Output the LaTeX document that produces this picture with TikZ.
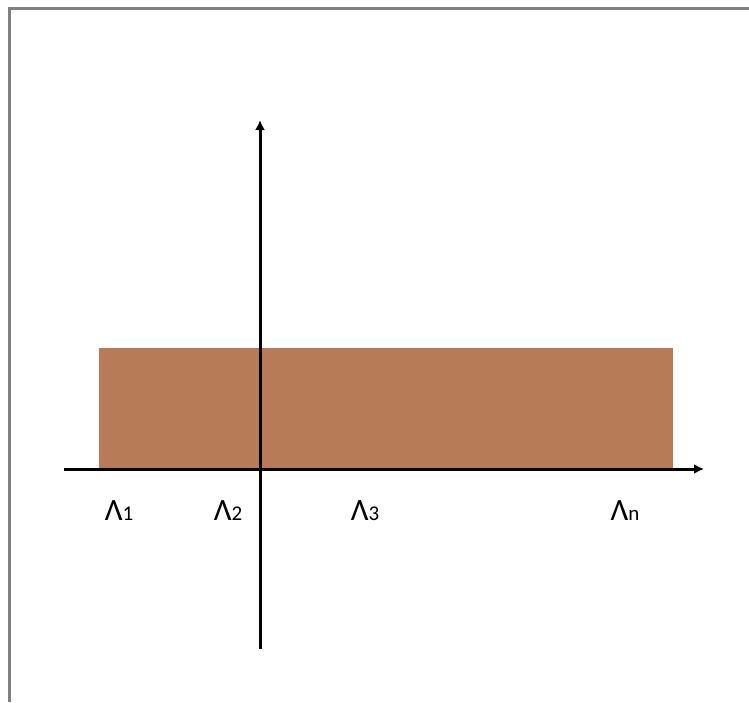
\documentclass[tikz,border=0pt]{standalone}
\usepackage{fontspec}
\setmainfont{Carlito}
\usetikzlibrary{arrows.meta}
\definecolor{barbrown}{RGB}{184,123,88}
\definecolor{framegray}{RGB}{128,128,128}
\tikzset{lab/.style={inner sep=0pt, anchor=base, font=\fontsize{31}{31}\selectfont}}
\newcommand{\lamlab}[1]{Λ{\fontsize{21}{21}\selectfont #1}}

\begin{document}
\begin{tikzpicture}[x=1pt, y=-1pt]
	\useasboundingbox (0,0) rectangle (749,702);
	\draw [framegray, line width=3pt] (9,702) -- (9,8) -- (749,8);
	\fill [barbrown] (99,348) rectangle (673,468);
	\coordinate (xstart) at (64,469);
	\coordinate (xend) at (704,469);
	\coordinate (ystart) at (260,649);
	\coordinate (yend) at (260,120);
	\draw [line width=3pt, -{Latex[length=10pt,width=10pt]}] (xstart) -- (xend);
	\draw [line width=3pt, -{Latex[length=10pt,width=10pt]}] (ystart) -- (yend);
	\node [lab] (l1) at (119,520) {\lamlab{1}};
	\node [lab] (l2) at (228,520) {\lamlab{2}};
	\node [lab] (l3) at (365,520) {\lamlab{3}};
	\node [lab] (ln) at (625,520) {\lamlab{n}};
\end{tikzpicture}
\end{document}
